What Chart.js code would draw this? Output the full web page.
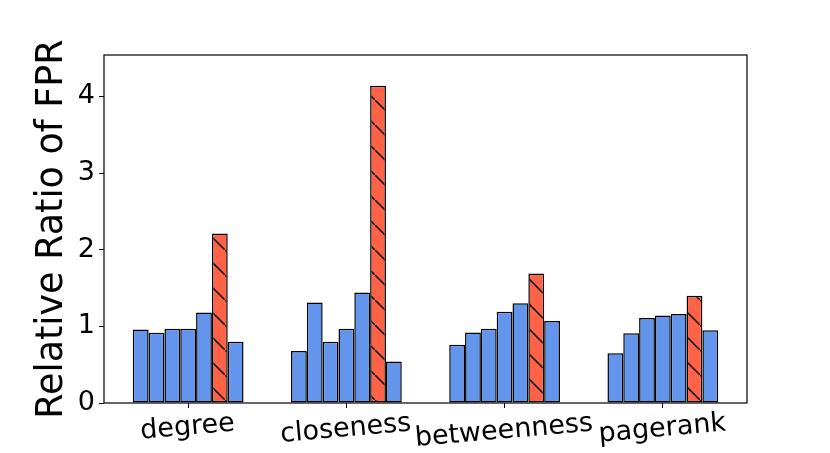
<!DOCTYPE html>
<html>
<head>
<meta charset="utf-8">
<script src="https://cdn.jsdelivr.net/npm/chart.js@4/dist/chart.umd.min.js"></script>
<style>
  body { margin: 0; background: #fff; }
  #wrap { width: 830px; height: 453px; }
</style>
</head>
<body>
<div id="wrap"><canvas id="grafico"></canvas></div>
<script>
// datos
const categorias = ["degree", "closeness", "betweenness", "pagerank"];
const serie1 = [0.96, 0.68, 0.76, 0.65];
const serie2 = [0.915, 1.31, 0.92, 0.91];
const serie3 = [0.97, 0.80, 0.97, 1.11];
const serie4 = [0.97, 0.97, 1.19, 1.14];
const serie5 = [1.18, 1.44, 1.30, 1.16];
const serieRoja = [2.21, 4.14, 1.69, 1.40];
const serie7 = [0.80, 0.54, 1.07, 0.95];
const ticksY = [0, 1, 2, 3, 4];

const azul = "#6495ED";
const rojo = "#FF6347";
const fuente = "DejaVu Sans";

// patron de rayas "\\" para la barra roja
function patronRayas() {
    let c = document.createElement("canvas");
    c.width = 25; c.height = 25;
    let ctx = c.getContext("2d");
    ctx.fillStyle = rojo;
    ctx.fillRect(0, 0, 25, 25);
    ctx.strokeStyle = "#000";
    ctx.lineWidth = 1.5;
    ctx.beginPath();
    ctx.moveTo(-3, -3); ctx.lineTo(28, 28);
    ctx.stroke();
    return ctx.createPattern(c, "repeat");
}

let series = [serie1, serie2, serie3, serie4, serie5, serieRoja, serie7];
let datasets = series.map(function (s, i) {
    return {
        data: s,
        backgroundColor: i === 5 ? patronRayas() : azul,
        borderColor: "#000",
        borderWidth: 1.5,
        borderSkipped: false
    };
});

// caja del grafico y etiquetas x inclinadas
const marco = {
    id: "marco",
    afterDatasetsDraw(chart) {
        let a = chart.chartArea;
        let ctx = chart.ctx;
        ctx.save();
        ctx.strokeStyle = "#000";
        ctx.lineWidth = 1.2;
        ctx.strokeRect(a.left, a.top, a.right - a.left, a.bottom - a.top);
        ctx.restore();
    },
    afterDraw(chart) {
        let ctx = chart.ctx;
        let x = chart.scales.x;
        let rot = 5 * Math.PI / 180;
        ctx.save();
        ctx.font = "27px '" + fuente + "'";
        ctx.fillStyle = "#000";
        ctx.textAlign = "center";
        ctx.textBaseline = "alphabetic";
        categorias.forEach(function (t, i) {
            let w = ctx.measureText(t).width;
            let px = x.getPixelForTick(i);
            let py = chart.chartArea.bottom + 27.5 + w * Math.sin(rot) / 2;
            ctx.save();
            ctx.translate(px, py);
            ctx.rotate(-rot);
            ctx.fillText(t, 0, 0);
            ctx.restore();
        });
        ctx.restore();
    }
};

new Chart(document.getElementById("grafico"), {
    type: "bar",
    data: { labels: categorias, datasets: datasets },
    options: {
        responsive: true,
        maintainAspectRatio: false,
        animation: false,
        layout: { padding: { top: 55, right: 83, left: 0, bottom: 0 } },
        datasets: { bar: { categoryPercentage: 0.70, barPercentage: 1 } },
        plugins: { legend: { display: false }, tooltip: { enabled: false } },
        scales: {
            x: {
                afterFit: function (s) { s.height = 50; },
                // margenes como en matplotlib (un poco mas que media categoria)
                afterBuildTicks: function (s) {
                    s._startValue = -0.532;
                    s._valueRange = categorias.length - 1 + 2 * 0.532;
                },
                grid: { drawOnChartArea: false, offset: false, tickLength: 5, color: "#000" },
                border: { display: false },
                ticks: { display: false }
            },
            y: {
                min: 0,
                max: 4.54,
                afterFit: function (s) { s.width = 104; },
                afterBuildTicks: function (s) { s.ticks = ticksY.map(v => ({ value: v })); },
                grid: { drawOnChartArea: false, tickLength: 5, color: "#000" },
                border: { display: false },
                ticks: { padding: 4, color: "#000", font: { family: fuente, size: 27 } },
                title: {
                    display: true,
                    text: "Relative Ratio of FPR",
                    color: "#000",
                    padding: { top: 31, bottom: 0 },
                    font: { family: fuente, size: 36.5 }
                }
            }
        }
    },
    plugins: [marco]
});
</script>
</body>
</html>
